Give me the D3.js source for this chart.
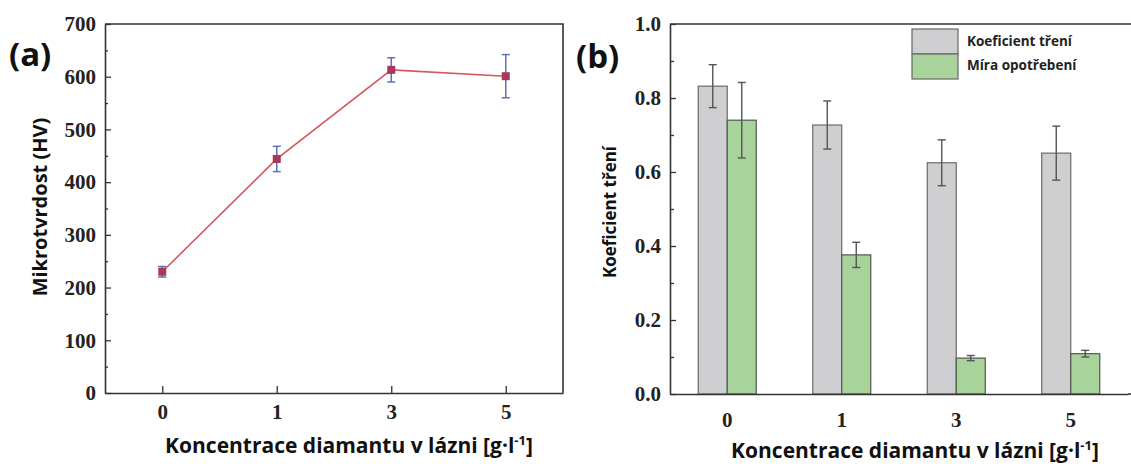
<!DOCTYPE html>
<html>
<head>
<meta charset="utf-8">
<script src="https://cdn.jsdelivr.net/npm/d3@7"></script>
<style>
  body { margin: 0; background: #fff; }
  svg { display: block; }
</style>
</head>
<body>
<script>
var width = 1131, height = 464;

// data
var categories = ["0", "1", "3", "5"];
var hardness = [230, 444, 613, 601];
var hardnessErr = [10, 24, 23, 41];
var friction = [0.832, 0.727, 0.625, 0.651];
var frictionErr = [0.058, 0.065, 0.062, 0.073];
var wear = [0.74, 0.376, 0.097, 0.109];
var wearErr = [0.102, 0.034, 0.007, 0.009];
var hardnessTicks = [0, 100, 200, 300, 400, 500, 600, 700];
var frictionTicks = [0, 0.2, 0.4, 0.6, 0.8, 1.0];
var seriesNames = ["Koeficient tření", "Míra opotřebení"];
var xTitle = "Koncentrace diamantu v lázni [g·l";

var svg = d3.select("body").append("svg")
    .attr("width", width)
    .attr("height", height);

var serif = "'Liberation Serif', 'Times New Roman', serif";
var sans = "'Open Sans', 'Noto Sans', sans-serif";

function styleAxis(g) {
    g.selectAll(".domain").attr("stroke", "#333").attr("stroke-width", 1.6);
    g.selectAll(".tick line").attr("stroke", "#333").attr("stroke-width", 1.3);
    g.selectAll(".tick text")
        .attr("fill", "#222")
        .style("font-family", serif)
        .style("font-weight", "bold")
        .style("font-size", "21px");
}

function xTitleText(g, cx, y) {
    var t = g.append("text")
        .attr("x", cx).attr("y", y)
        .attr("text-anchor", "middle")
        .attr("fill", "#111")
        .style("font-family", sans)
        .style("font-weight", "bold")
        .style("font-size", "21px");
    t.append("tspan").text(xTitle);
    t.append("tspan").attr("dy", -8).style("font-size", "13px").text("-1");
    t.append("tspan").attr("dy", 8).text("]");
}

// ---------- panel (a) ----------
var a = { left: 105, top: 24, right: 563, bottom: 393 };

var xa = d3.scalePoint()
    .domain(categories)
    .range([a.left, a.right])
    .padding(0.5);

var ya = d3.scaleLinear()
    .domain([0, 700])
    .range([a.bottom, a.top]);

var ga = svg.append("g");

// minor ticks
ga.append("g")
    .attr("transform", "translate(" + a.left + ",0)")
    .call(d3.axisRight(ya).tickValues(d3.range(50, 700, 100)).tickSize(3).tickFormat(""))
    .call(styleAxis)
    .select(".domain").remove();

ga.append("g")
    .attr("transform", "translate(" + a.left + ",0)")
    .call(d3.axisLeft(ya).tickValues(hardnessTicks).tickSizeInner(-6).tickSizeOuter(0).tickPadding(9))
    .call(styleAxis);

ga.append("g")
    .attr("transform", "translate(0," + a.bottom + ")")
    .call(d3.axisBottom(xa).tickSizeInner(-7).tickSizeOuter(0).tickPadding(11))
    .call(styleAxis);

// top / right frame
ga.append("path")
    .attr("d", "M" + a.left + "," + a.top + "H" + a.right + "V" + a.bottom)
    .attr("fill", "none")
    .attr("stroke", "#333")
    .attr("stroke-width", 1.6);

var line = d3.line()
    .x(function (d, i) { return xa(categories[i]); })
    .y(function (d) { return ya(d); });

ga.append("path")
    .datum(hardness)
    .attr("d", line)
    .attr("fill", "none")
    .attr("stroke", "#d4585e")
    .attr("stroke-width", 1.6);

var errA = ga.selectAll(".erra")
    .data(hardness)
    .enter().append("g")
    .attr("stroke", "#5b72b8")
    .attr("stroke-width", 1.5);

errA.append("line")
    .attr("x1", function (d, i) { return xa(categories[i]); })
    .attr("x2", function (d, i) { return xa(categories[i]); })
    .attr("y1", function (d, i) { return ya(d - hardnessErr[i]); })
    .attr("y2", function (d, i) { return ya(d + hardnessErr[i]); });

[-1, 1].forEach(function (s) {
    errA.append("line")
        .attr("x1", function (d, i) { return xa(categories[i]) - 4; })
        .attr("x2", function (d, i) { return xa(categories[i]) + 4; })
        .attr("y1", function (d, i) { return ya(d + s * hardnessErr[i]); })
        .attr("y2", function (d, i) { return ya(d + s * hardnessErr[i]); });
});

ga.selectAll(".pt")
    .data(hardness)
    .enter().append("rect")
    .attr("x", function (d, i) { return xa(categories[i]) - 4; })
    .attr("y", function (d) { return ya(d) - 4; })
    .attr("width", 8)
    .attr("height", 8)
    .attr("fill", "#a8385a");

ga.append("text")
    .attr("x", 9).attr("y", 66)
    .attr("fill", "#111")
    .style("font-family", sans)
    .style("font-weight", "bold")
    .style("font-size", "33px")
    .text("(a)");

ga.append("text")
    .attr("transform", "translate(47,207) rotate(-90)")
    .attr("text-anchor", "middle")
    .attr("fill", "#111")
    .style("font-family", sans)
    .style("font-weight", "bold")
    .style("font-size", "20px")
    .text("Mikrotvrdost (HV)");

xTitleText(ga, 349, 453);

// ---------- panel (b) ----------
var b = { left: 670, top: 24, right: 1128, bottom: 394 };

var xb = d3.scaleBand()
    .domain(categories)
    .range([b.left, b.right]);

var yb = d3.scaleLinear()
    .domain([0, 1])
    .range([b.bottom, b.top]);

var barW = 29;
var gb = svg.append("g");

var groups = [
    { values: friction, err: frictionErr, fill: "#cfcfd2", stroke: "#6a6a6a", off: -barW },
    { values: wear, err: wearErr, fill: "#a8d49c", stroke: "#4f5a4c", off: 0 }
];

groups.forEach(function (s) {
    gb.selectAll(null)
        .data(s.values)
        .enter().append("rect")
        .attr("x", function (d, i) { return xb(categories[i]) + xb.bandwidth() / 2 + s.off; })
        .attr("y", function (d) { return yb(d); })
        .attr("width", barW)
        .attr("height", function (d) { return yb(0) - yb(d); })
        .attr("fill", s.fill)
        .attr("stroke", s.stroke)
        .attr("stroke-width", 1.2);
});

groups.forEach(function (s) {
    var e = gb.selectAll(null)
        .data(s.values)
        .enter().append("g")
        .attr("stroke", "#555")
        .attr("stroke-width", 1.4);
    var cx = function (d, i) { return xb(categories[i]) + xb.bandwidth() / 2 + s.off + barW / 2; };
    e.append("line")
        .attr("x1", cx).attr("x2", cx)
        .attr("y1", function (d, i) { return yb(d - s.err[i]); })
        .attr("y2", function (d, i) { return yb(d + s.err[i]); });
    [-1, 1].forEach(function (k) {
        e.append("line")
            .attr("x1", function (d, i) { return cx(d, i) - 4; })
            .attr("x2", function (d, i) { return cx(d, i) + 4; })
            .attr("y1", function (d, i) { return yb(d + k * s.err[i]); })
            .attr("y2", function (d, i) { return yb(d + k * s.err[i]); });
    });
});

gb.append("g")
    .attr("transform", "translate(" + b.left + ",0)")
    .call(d3.axisRight(yb).tickValues([0.1, 0.3, 0.5, 0.7, 0.9]).tickSize(4).tickFormat(""))
    .call(styleAxis)
    .select(".domain").remove();

gb.append("g")
    .attr("transform", "translate(" + b.left + ",0)")
    .call(d3.axisLeft(yb).tickValues(frictionTicks).tickFormat(d3.format(".1f")).tickSizeInner(-6).tickSizeOuter(0).tickPadding(9))
    .call(styleAxis);

gb.append("g")
    .attr("transform", "translate(0," + b.bottom + ")")
    .call(d3.axisBottom(xb).tickSize(0).tickPadding(18))
    .call(styleAxis);

gb.append("path")
    .attr("d", "M" + b.left + "," + b.top + "H" + width + "M" + b.right + "," + b.bottom + "H" + width)
    .attr("fill", "none")
    .attr("stroke", "#333")
    .attr("stroke-width", 1.6);

// legend
var leg = gb.append("g").attr("transform", "translate(912,29)");
[["#cfcfd2", 0], ["#a8d49c", 1]].forEach(function (p) {
    leg.append("rect")
        .attr("x", 0).attr("y", p[1] * 25)
        .attr("width", 46).attr("height", 25)
        .attr("fill", p[0])
        .attr("stroke", "#666")
        .attr("stroke-width", 1.2);
});
leg.selectAll("text")
    .data(seriesNames)
    .enter().append("text")
    .attr("x", 55)
    .attr("y", function (d, i) { return 17 + i * 24; })
    .attr("fill", "#222")
    .style("font-family", sans)
    .style("font-weight", "bold")
    .style("font-size", "13.5px")
    .text(function (d) { return d; });

gb.append("text")
    .attr("x", 576).attr("y", 68)
    .attr("fill", "#111")
    .style("font-family", sans)
    .style("font-weight", "bold")
    .style("font-size", "33px")
    .text("(b)");

gb.append("text")
    .attr("transform", "translate(616,212) rotate(-90)")
    .attr("text-anchor", "middle")
    .attr("fill", "#111")
    .style("font-family", sans)
    .style("font-weight", "bold")
    .style("font-size", "17px")
    .text(seriesNames[0]);

xTitleText(gb, 915, 458);
</script>
</body>
</html>
